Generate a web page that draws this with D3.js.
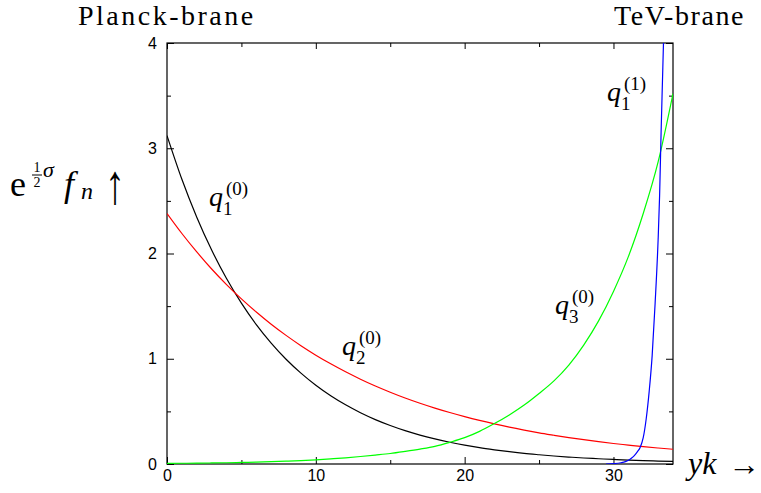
<!DOCTYPE html>
<html>
<head>
<meta charset="utf-8">
<script src="https://cdn.jsdelivr.net/npm/d3@7"></script>
<style>
  body { margin: 0; background: #fff; }
</style>
</head>
<body>
<svg width="761" height="493"></svg>
<script>
// values (yk on x, e^{sigma/2} f_n on y)
const xs = [0,1,2,3,4,5,6,7,8,9,10,11,12,13,14,15,16,17,18,19,20,21,22,23,24,25,26,27,28,29,30,31,32,33,34]
const q1_0 = [3.12,2.705,2.345,2.033,1.762,1.528,1.324,1.148,0.995,0.863,0.748,0.648,0.562,0.487,0.422,0.366,0.317,0.275,0.239,0.207,0.179,0.155,0.135,0.117,0.101,0.088,0.076,0.066,0.057,0.050,0.043,0.037,0.032,0.028,0.024]
const q2_0 = [2.38,2.19,2.015,1.853,1.705,1.569,1.444,1.328,1.222,1.124,1.034,0.952,0.876,0.806,0.741,0.682,0.627,0.577,0.531,0.489,0.450,0.414,0.381,0.350,0.322,0.296,0.273,0.251,0.231,0.212,0.195,0.180,0.165,0.152,0.140]
const q3_0 = [0.006,0.007,0.008,0.010,0.012,0.015,0.018,0.022,0.027,0.033,0.040,0.049,0.059,0.071,0.085,0.100,0.120,0.142,0.168,0.206,0.250,0.310,0.384,0.466,0.560,0.670,0.790,0.940,1.130,1.360,1.640,1.970,2.380,2.870,3.520]
// the q1^(1) mode only lifts off near the TeV-brane
const blueX = [29.5,30,30.5,30.8,31.0,31.2,31.4,31.6,31.8,32.0,32.2,32.4,32.6,32.8,33.0,33.1,33.2,33.3,33.36,33.45]
const blueY = [0,0.004,0.012,0.022,0.035,0.055,0.08,0.115,0.16,0.25,0.43,0.69,1.03,1.53,2.13,2.55,3.15,3.68,4.0,4.5]

const xMajor = [0,10,20,30]
const xMinor = [5,15,25]
const yMajor = [0,1,2,3,4]
const yMinor = [0.5,1.5,2.5,3.5]

let Width = 761
let Height = 493
let svg = d3.select('svg').attr('width', Width).attr('height', Height)

let x = d3.scaleLinear().domain([0, 34]).range([167, 673])
let y = d3.scaleLinear().domain([0, 4]).range([464, 43])

const SERIF = '"Liberation Serif"'
const SANS = '"Liberation Sans"'

// clip so the steep blue mode stops at the frame
svg.append('clipPath').attr('id', 'plotclip')
  .append('rect').attr('x', 167).attr('y', 43).attr('width', 506).attr('height', 421)

// axes, ticks pointing inwards on all four sides
function addAxis(axis, tx, ty, values, size, labels) {
  let g = svg.append('g').attr('transform', 'translate(' + tx + ',' + ty + ')')
    .call(axis.tickValues(values).tickSizeInner(-size).tickSizeOuter(0).tickPadding(6)
      .tickFormat(labels ? d3.format('d') : ''))
  g.attr('font-family', null).attr('font-size', null)
  g.select('.domain').remove()
  g.selectAll('line').attr('stroke', '#000').attr('stroke-width', 1)
  g.selectAll('text').style('font-family', SANS).style('font-size', '16px').attr('fill', '#000')
  return g
}
addAxis(d3.axisBottom(x), 0, 464, xMajor, 7, true)
addAxis(d3.axisBottom(x), 0, 464, xMinor, 4, false)
addAxis(d3.axisTop(x), 0, 43, xMajor, 6, false)
addAxis(d3.axisTop(x), 0, 43, xMinor, 4, false)
addAxis(d3.axisLeft(y), 167, 0, yMajor, 7, true).selectAll('text').attr('dx', -4)
addAxis(d3.axisLeft(y), 167, 0, yMinor, 4, false)
addAxis(d3.axisRight(y), 673, 0, yMajor, 7, false)
addAxis(d3.axisRight(y), 673, 0, yMinor, 4, false)

svg.append('rect').attr('x', 167).attr('y', 43).attr('width', 506).attr('height', 421)
  .attr('fill', 'none').attr('stroke', '#000').attr('stroke-width', 1.2)

// curves
let line = d3.line().x(d => x(d[0])).y(d => y(d[1])).curve(d3.curveMonotoneX)
let plot = svg.append('g').attr('clip-path', 'url(#plotclip)')
const series = [
  { vals: xs.map((v, i) => [v, q1_0[i]]), color: '#000000' },
  { vals: xs.map((v, i) => [v, q2_0[i]]), color: '#ff0000' },
  { vals: xs.map((v, i) => [v, q3_0[i]]), color: '#00ff00' },
  { vals: blueX.map((v, i) => [v, blueY[i]]), color: '#0000ff' }
]
plot.selectAll('path').data(series).enter().append('path')
  .attr('d', d => line(d.vals))
  .attr('fill', 'none')
  .attr('stroke', d => d.color)
  .attr('stroke-width', 1.2)

// text helper
function txt(s, tx, ty, size, italic, anchor) {
  return svg.append('text').attr('x', tx).attr('y', ty)
    .style('font-family', SERIF)
    .style('font-size', size + 'px')
    .style('font-style', italic ? 'italic' : 'normal')
    .attr('text-anchor', anchor || 'start')
    .attr('fill', '#000')
    .text(s)
}

// brane titles
txt('Planck-brane', 78, 25, 28).style('letter-spacing', '2.5px')
txt('TeV-brane', 614, 25, 28).style('letter-spacing', '1.6px')

// y label: e^{(1/2) sigma} f_n arrow-up
txt('e', 10, 196, 36)
txt('1', 37, 172, 14, false, 'middle')
svg.append('line').attr('x1', 32).attr('x2', 42).attr('y1', 175).attr('y2', 175)
  .attr('stroke', '#000').attr('stroke-width', 1)
txt('2', 37, 187, 14, false, 'middle')
txt('σ', 43, 177, 22, true)
txt('f', 64, 196, 36, true)
txt('n', 81, 199, 24, true)
txt('↑', 0, 0, 40).attr('transform', 'translate(105,203) scale(1,1.4)')

// x label
txt('yk', 688, 474, 32, true)
txt('→', 728, 475, 32)

// curve labels q_i^(j)
function qlabel(qx, qy, sub, sup) {
  txt('q', qx, qy, 28, true)
  txt(sub, qx + 14, qy + 9, 19)
  txt(sup, qx + 17, qy - 11, 19)
}
qlabel(209, 206, '1', '(0)')
qlabel(342, 355, '2', '(0)')
qlabel(555, 314, '3', '(0)')
qlabel(607, 101, '1', '(1)')
</script>
</body>
</html>
